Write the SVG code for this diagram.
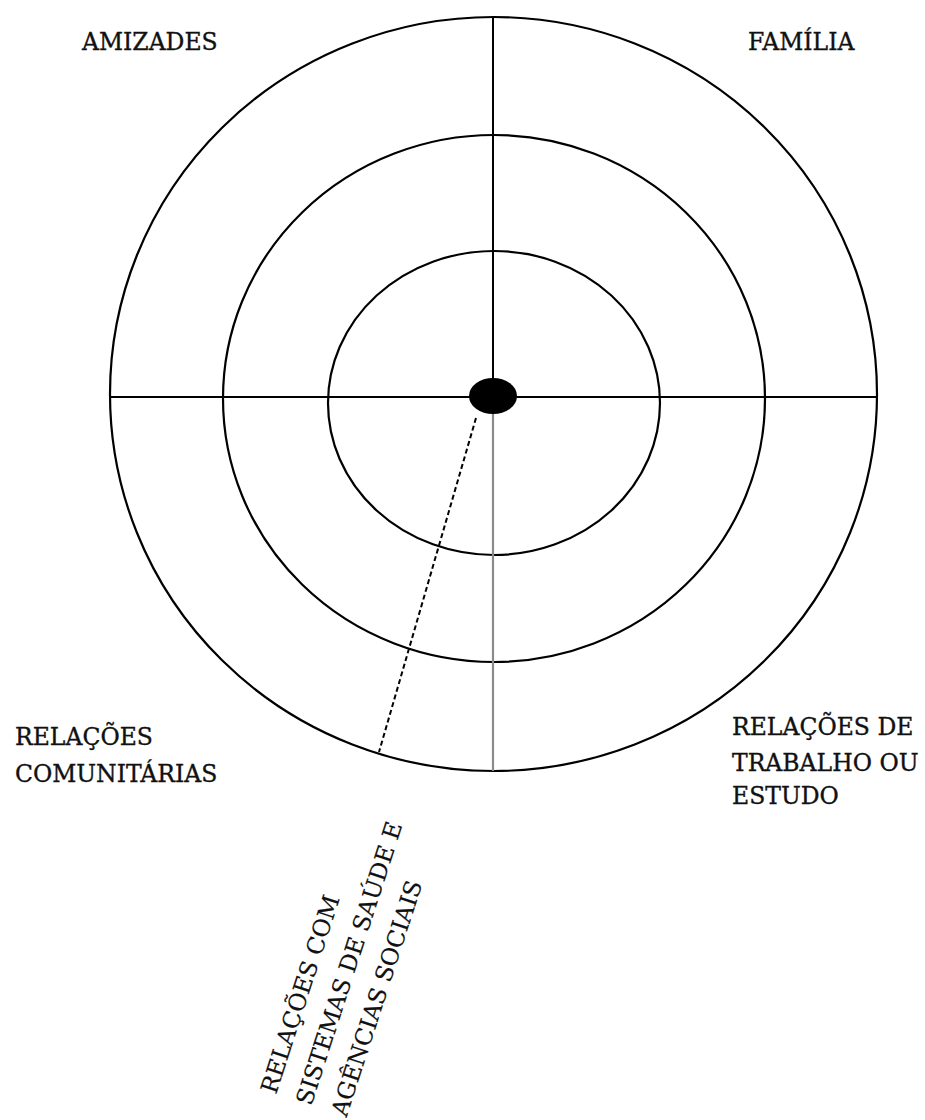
<svg xmlns="http://www.w3.org/2000/svg" width="925" height="1120" viewBox="0 0 925 1120">
<style>
.ring{fill:none;stroke:#000;stroke-width:2.2}
.axis{stroke:#000;stroke-width:2}
.lbl{font-family:"DejaVu Serif",serif;font-size:23.5px;fill:#111;stroke:#111;stroke-width:0.35}
</style>
<rect width="925" height="1120" fill="#fff"/>
<g id="rings">
<ellipse id="outer" class="ring" cx="493.5" cy="394" rx="383.5" ry="377"/>
<ellipse id="middle" class="ring" cx="494" cy="398.5" rx="271" ry="263.5"/>
<ellipse id="inner" class="ring" cx="494" cy="403" rx="166" ry="152"/>
</g>
<g id="connectors">
<line class="axis" x1="110" y1="397" x2="877" y2="397"/>
<line class="axis" x1="493" y1="17" x2="493" y2="397"/>
<line x1="493" y1="397" x2="493" y2="771" stroke="#8a8a8a" stroke-width="2.2"/>
<line x1="476" y1="418" x2="379" y2="752" stroke="#000" stroke-width="2" stroke-dasharray="5,3"/>
</g>
<g id="center"><ellipse cx="493" cy="396" rx="24" ry="18" fill="#000"/></g>
<g id="amizades"><text class="lbl" x="82" y="50">AMIZADES</text></g>
<g id="familia"><text class="lbl" x="748" y="50">FAMÍLIA</text></g>
<g id="comunitarias"><text class="lbl" x="15" y="745">RELAÇÕES</text><text class="lbl" x="15" y="782">COMUNITÁRIAS</text></g>
<g id="trabalho"><text class="lbl" x="732" y="735">RELAÇÕES DE</text><text class="lbl" x="732" y="771">TRABALHO OU</text><text class="lbl" x="732" y="804">ESTUDO</text></g>
<g id="saude" transform="translate(276,1095) rotate(-72)">
<text class="lbl" x="0" y="0" style="stroke-width:0.15">RELAÇÕES COM</text>
<text class="lbl" x="0" y="37" style="stroke-width:0.15">SISTEMAS DE SAÚDE E</text>
<text class="lbl" x="0" y="74" style="stroke-width:0.15">AGÊNCIAS SOCIAIS</text>
</g>
</svg>
